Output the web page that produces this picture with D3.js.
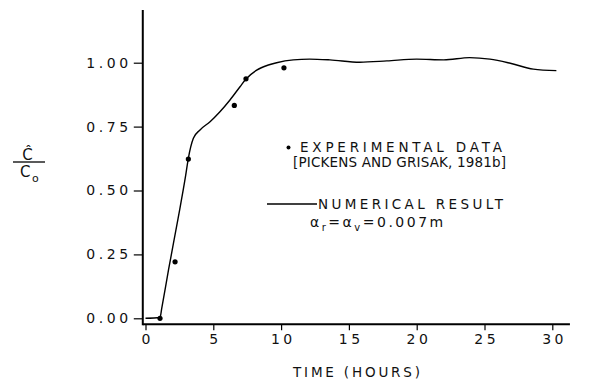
<!DOCTYPE html>
<html>
<head>
<meta charset="utf-8">
<script src="https://cdn.jsdelivr.net/npm/d3@7/dist/d3.min.js"></script>
<style>
  html, body { margin: 0; padding: 0; background: #fff; }
  svg { display: block; }
  text { font-family: "DejaVu Sans", "Liberation Sans", sans-serif; fill: #111; }
</style>
</head>
<body>
<svg id="chart" width="595" height="383"></svg>
<script>
// ---- data ----
const curveTime = [0, 1.07, 1.2, 1.7, 2.4, 2.95, 3.16, 3.53, 4.02, 4.76, 5.49, 6.23, 6.97, 7.41, 8.2, 9.06, 9.67, 10.9, 12.1, 13.6, 15.8, 17.8, 20.0, 22.0, 23.9, 25.4, 26.9, 28.6, 30.3];
const curveConc = [0, 0.003, 0.04, 0.19, 0.39, 0.555, 0.626, 0.704, 0.737, 0.769, 0.808, 0.854, 0.906, 0.936, 0.971, 0.991, 1.0, 1.011, 1.014, 1.011, 1.002, 1.007, 1.014, 1.011, 1.02, 1.014, 0.998, 0.975, 0.969];
const expTime = [1.07, 2.18, 3.16, 6.55, 7.41, 10.21];
const expConc = [0.0, 0.221, 0.623, 0.833, 0.937, 0.980];
const xTicks = [0, 5, 10, 15, 20, 25, 30];
const yTicks = [0, 0.25, 0.5, 0.75, 1.0];
const xTitle = "TIME (HOURS)";
const legendExp = ["EXPERIMENTAL DATA", "[PICKENS AND GRISAK, 1981b]"];
const legendNum = "NUMERICAL RESULT";

// ---- layout ----
const svg = d3.select("#chart");
const x = d3.scaleLinear().domain([0, 30]).range([145.5, 552.3]);
const y = d3.scaleLinear().domain([0, 1]).range([318.3, 62.7]);
const xExt = [-0.2, 31.3];
const yExt = [-0.023, 1.206];

// axes lines
svg.append("line")
  .attr("x1", x(xExt[0])).attr("x2", x(xExt[1]))
  .attr("y1", y(yExt[0])).attr("y2", y(yExt[0]))
  .attr("stroke", "#000").attr("stroke-width", 2);
svg.append("line")
  .attr("x1", x(xExt[0])).attr("x2", x(xExt[0]))
  .attr("y1", y(yExt[0]) + 1).attr("y2", y(yExt[1]))
  .attr("stroke", "#000").attr("stroke-width", 2);

// x axis ticks
const xAxis = d3.axisBottom(x).tickValues(xTicks).tickSize(6).tickPadding(4)
  .tickFormat(d3.format("d"));
const gx = svg.append("g").attr("transform", `translate(0,${y(yExt[0])})`).call(xAxis);
gx.select(".domain").remove();
gx.selectAll(".tick line").attr("stroke", "#000").attr("stroke-width", 1.2);
gx.selectAll(".tick text")
  .attr("font-size", 14).attr("letter-spacing", 3.5)
  .attr("dx", 1.75).attr("fill", "#111")
  .style("font-family", "DejaVu Sans");

// y axis ticks
const yAxis = d3.axisLeft(y).tickValues(yTicks).tickSize(9).tickPadding(2)
  .tickFormat(d3.format(".2f"));
const gy = svg.append("g").attr("transform", `translate(${x(xExt[0])},0)`).call(yAxis);
gy.select(".domain").remove();
gy.selectAll(".tick line").attr("stroke", "#000").attr("stroke-width", 1.2);
gy.selectAll(".tick text")
  .attr("font-size", 14).attr("letter-spacing", 3.6)
  .attr("fill", "#111")
  .style("font-family", "DejaVu Sans");

// x title
svg.append("text")
  .attr("x", 293).attr("y", 377)
  .attr("font-size", 13.5)
  .attr("textLength", 127).attr("lengthAdjust", "spacing")
  .text(xTitle);

// y label: C-hat over C0
svg.append("text").attr("x", 27.5).attr("y", 160).attr("text-anchor", "middle")
  .attr("font-size", 15).text("Ĉ");
svg.append("line").attr("x1", 13).attr("x2", 45).attr("y1", 162).attr("y2", 162)
  .attr("stroke", "#000").attr("stroke-width", 1.3);
const c0 = svg.append("text").attr("x", 20).attr("y", 177).attr("font-size", 15);
c0.append("tspan").text("C");
c0.append("tspan").attr("font-size", 11).attr("dx", 1.5).attr("dy", 5).text("o");

// curve
const pts = curveTime.map((t, i) => [t, curveConc[i]]);
const line = d3.line().x(d => x(d[0])).y(d => y(d[1])).curve(d3.curveMonotoneX);
svg.append("path").attr("d", line(pts))
  .attr("fill", "none").attr("stroke", "#000").attr("stroke-width", 1.4);

// experimental points
svg.selectAll("circle.exp").data(expTime.map((t, i) => [t, expConc[i]]))
  .enter().append("circle").attr("class", "exp")
  .attr("cx", d => x(d[0])).attr("cy", d => y(d[1])).attr("r", 2.6)
  .attr("fill", "#000");

// legend
svg.append("circle").attr("cx", 288.5).attr("cy", 147.5).attr("r", 2).attr("fill", "#000");
svg.append("text").attr("x", 300).attr("y", 152).attr("font-size", 13.5)
  .attr("textLength", 202).attr("lengthAdjust", "spacing").text(legendExp[0]);
svg.append("text").attr("x", 293).attr("y", 167).attr("font-size", 13.5)
  .attr("textLength", 213).attr("lengthAdjust", "spacing").text(legendExp[1]);
svg.append("line").attr("x1", 267).attr("x2", 317).attr("y1", 204).attr("y2", 204)
  .attr("stroke", "#000").attr("stroke-width", 1.3);
svg.append("text").attr("x", 318).attr("y", 209).attr("font-size", 13.5)
  .attr("textLength", 185).attr("lengthAdjust", "spacing").text(legendNum);
const al = svg.append("text").attr("x", 310).attr("y", 227).attr("font-size", 14)
  .attr("letter-spacing", 2.5);
al.append("tspan").text("α");
al.append("tspan").attr("font-size", 10).attr("dy", 4).text("r");
al.append("tspan").attr("dy", -4).text("=α");
al.append("tspan").attr("font-size", 10).attr("dy", 4).text("v");
al.append("tspan").attr("dy", -4).text("=0.007m");
</script>
</body>
</html>
